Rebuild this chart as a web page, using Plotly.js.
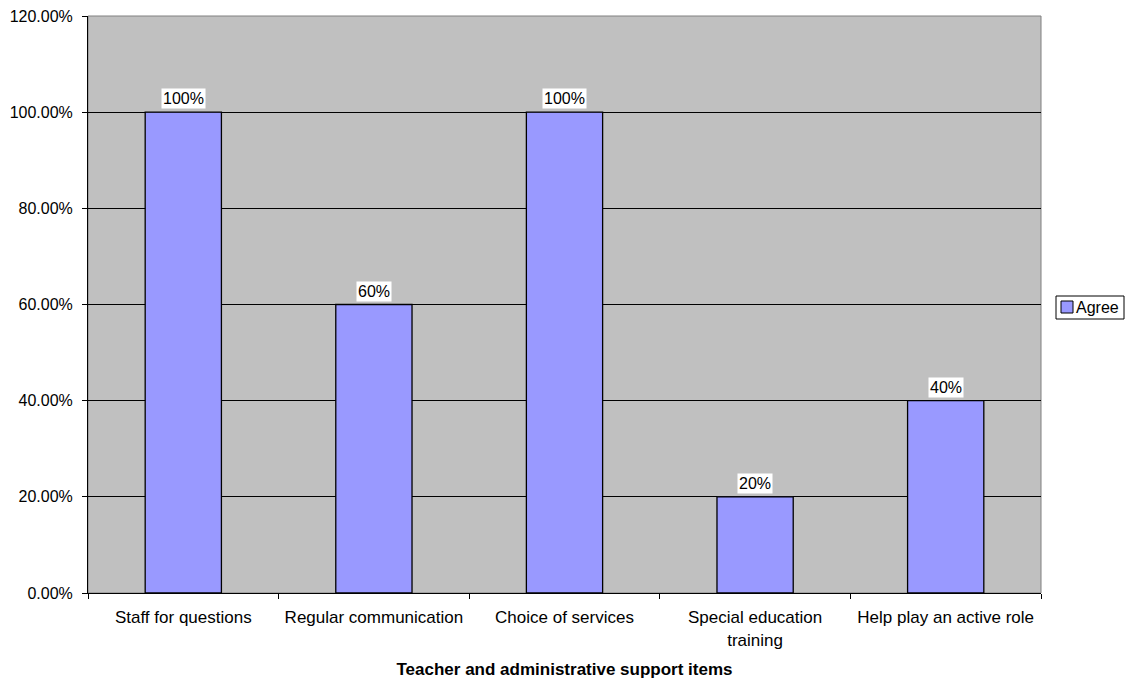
<!DOCTYPE html>
<html><head><meta charset="utf-8">
<script src="https://cdn.plot.ly/plotly-3.0.1.min.js"></script>
<style>body{margin:0;padding:0;background:#fff}#chart{width:1130px;height:683px}</style>
</head><body><div id="chart"></div>
<script>
const categories = ["Staff for questions","Regular communication","Choice of services","Special education<br>training","Help play an active role"];
const agreeValues = [1.0, 0.6, 1.0, 0.2, 0.4];
const valueLabels = ["100%","60%","100%","20%","40%"];
const yTickVals = [0,0.2,0.4,0.6,0.8,1.0,1.2];
const seriesName = "Agree";

const font = {family:"Liberation Sans, Arial, sans-serif", size:17, color:"#000"};
const font16 = {...font, size:16};
const trace = {
  type:"bar", x:categories, y:agreeValues, name:seriesName,
  marker:{color:"#9999FF", line:{color:"#000", width:1.3}},
  width:0.4, hoverinfo:"none", showlegend:false
};
const annotations = categories.map((c,i)=>({
  x:c, y:agreeValues[i], xref:"x", yref:"y", text:valueLabels[i],
  showarrow:false, yanchor:"bottom", yshift:3, bgcolor:"#fff",
  font:font16, borderpad:1
}));
// legend drawn as shapes + text (Excel-style compact legend)
const W = 1130-88-89, H = 683-16-90;
const px = v => (v-88)/W, py = v => (593-v)/H;
annotations.push({xref:"paper", yref:"paper", x:px(1075), y:py(307), xanchor:"left", yanchor:"middle",
  text:seriesName, showarrow:false, font:font16, borderpad:0});
const layout = {
  width:1130, height:683,
  margin:{l:88, r:89, t:16, b:90, autoexpand:false},
  paper_bgcolor:"#fff", plot_bgcolor:"#C0C0C0",
  font:font,
  showlegend:false,
  xaxis:{type:"category", tickson:"boundaries", ticks:"outside", ticklen:5, tickcolor:"#000",
    showline:true, linecolor:"#000", linewidth:1, showgrid:false, tickfont:font, ticklabelstandoff:9,
    title:{text:"<b>Teacher and administrative support items</b>", font:font, standoff:14}},
  yaxis:{range:[0,1.2], tickvals:yTickVals, tickformat:".2%", ticks:"outside", ticklen:5,
    tickcolor:"#000", showline:true, linecolor:"#000", linewidth:1, ticklabelstandoff:6,
    showgrid:true, gridcolor:"#000", gridwidth:1, zeroline:false, tickfont:font16},
  shapes:[
    {type:"rect", xref:"paper", yref:"paper", x0:0, x1:1, y0:0, y1:1, line:{color:"#808080", width:1}, layer:"below"},
    {type:"rect", xref:"paper", yref:"paper", x0:px(1056), x1:px(1124), y0:py(296), y1:py(319), line:{color:"#000", width:1}, fillcolor:"#fff"},
    {type:"rect", xref:"paper", yref:"paper", x0:px(1061), x1:px(1073), y0:py(301), y1:py(313), line:{color:"#000", width:1}, fillcolor:"#9999FF"}
  ],
  annotations:annotations
};
Plotly.newPlot("chart",[trace],layout,{displayModeBar:false, staticPlot:true});
</script></body></html>
